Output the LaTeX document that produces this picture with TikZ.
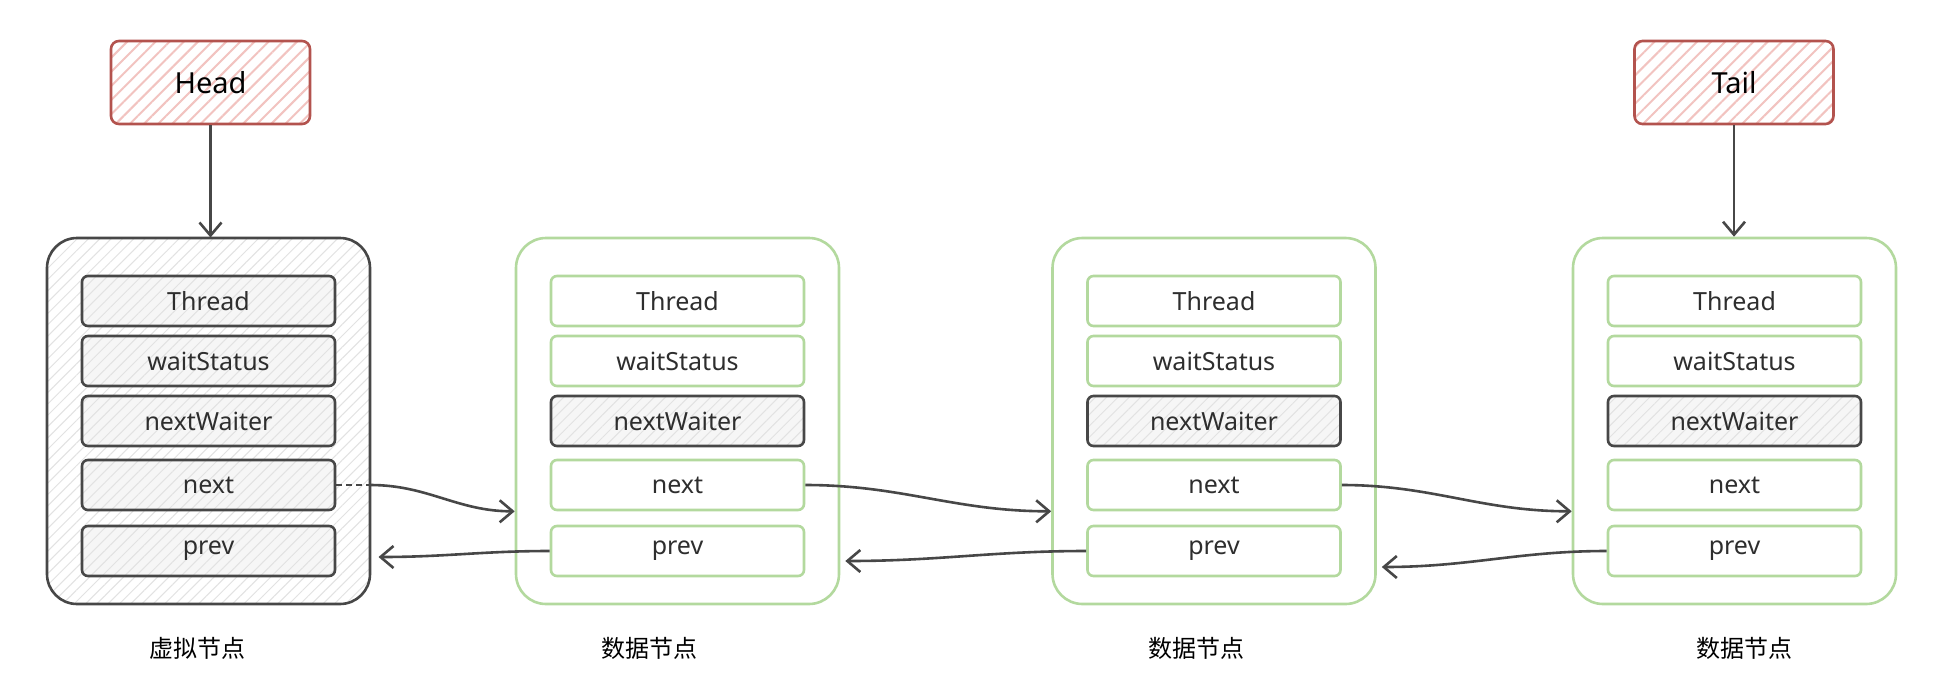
\documentclass[tikz,border=0pt]{standalone}
\usepackage{fontspec}
\setmainfont{Noto Sans}
\newfontfamily\cjk{Noto Sans CJK SC}
\usetikzlibrary{patterns.meta,arrows.meta,calc}
\definecolor{dk}{HTML}{474747}
\definecolor{txt}{HTML}{2E2E2E}
\definecolor{grn}{HTML}{B3D99E}
\definecolor{redS}{HTML}{B3534E}
\definecolor{redH}{HTML}{F2C3C0}
\definecolor{hatchG}{HTML}{E2E2E2}
\definecolor{rowbg}{HTML}{F6F6F6}
\tikzset{
  outer/.style={draw, line width=2.6pt, rounded corners=30pt, minimum width=323pt, minimum height=366pt, inner sep=0pt},
  outergray/.style={outer, draw=dk, preaction={fill=white}, pattern={Lines[angle=45,distance=8pt,line width=1pt]}, pattern color=hatchG},
  outergreen/.style={outer, draw=grn, fill=white},
  field/.style={draw, line width=2.6pt, rounded corners=6pt, minimum width=253pt, minimum height=50pt, inner sep=0pt, text=txt, font=\fontsize{25}{29}\selectfont},
  fgreen/.style={field, draw=grn, fill=white},
  fgray/.style={field, draw=dk, preaction={fill=rowbg}, pattern={Lines[angle=45,distance=8pt,line width=1pt]}, pattern color=hatchG},
  ptr/.style={draw=redS, line width=2.6pt, rounded corners=8pt, minimum width=199pt, minimum height=83pt, inner sep=0pt, text=black, font=\fontsize{29}{33}\selectfont, preaction={fill=white}, pattern={Lines[angle=45,distance=10pt,line width=2pt]}, pattern color=redH},
  conn/.style={draw=dk, line width=2.6pt, -{Straight Barb[length=13pt,width=22pt,line width=2.6pt]}},
  nodelabel/.style={font=\cjk\fontsize{24}{28}\selectfont, text=black}
}
\begin{document}
\begin{tikzpicture}[x=1pt,y=-1pt]
\useasboundingbox (0,0) rectangle (1938,678);
% pointers
\node[ptr] (head) at (210.5,82.5) {Head};
\node[ptr] (tail) at (1734,82.5) {Tail};
% nodes
\foreach \i/\cx/\os/\fs in {1/208.5/outergray/fgray, 2/677.5/outergreen/fgreen, 3/1214/outergreen/fgreen, 4/1734.5/outergreen/fgreen}{
  \node[\os] (n\i) at (\cx,421) {};
  \node[\fs] (n\i-thread) at (\cx,301) {Thread};
  \node[\fs] (n\i-wait) at (\cx,361) {waitStatus};
  \node[fgray] (n\i-nw) at (\cx,421) {nextWaiter};
  \node[\fs] (n\i-next) at (\cx,485) {next};
  \node[\fs] (n\i-prev) at (\cx,551) {prev};
}
% labels
\node[nodelabel] (l1) at (197,648) {虚拟节点};
\node[nodelabel] (l2) at (649,648) {数据节点};
\node[nodelabel] (l3) at (1196,648) {数据节点};
\node[nodelabel] (l4) at (1744,648) {数据节点};
% pointer arrows
\draw[conn] (head.south) -- (head.south |- n1.north);
\draw[conn] (tail.south) -- (tail.south |- n4.north);
% next arrows
\draw[draw=dk, line width=2.6pt, dash pattern=on 6pt off 4pt] (n1-next.east) -- (n1-next.east -| n1.east) coordinate (d1);
\draw[conn] (d1) to[out=0,in=180] (n2.west |- n1-next.south);
\draw[conn] (n2-next.east) to[out=0,in=180] (n3.west |- n2-next.south);
\draw[conn] (n3-next.east) to[out=0,in=180] (n4.west |- n3-next.south);
% prev arrows
\draw[conn] (n2-prev.west) to[out=180,in=0] ($(n1.east |- n2-prev.west)+(8,6)$);
\draw[conn] (n3-prev.west) to[out=180,in=0] ($(n2.east |- n3-prev.west)+(5,10)$);
\draw[conn] (n4-prev.west) to[out=180,in=0] ($(n3.east |- n4-prev.west)+(5,16)$);
\end{tikzpicture}
\end{document}
